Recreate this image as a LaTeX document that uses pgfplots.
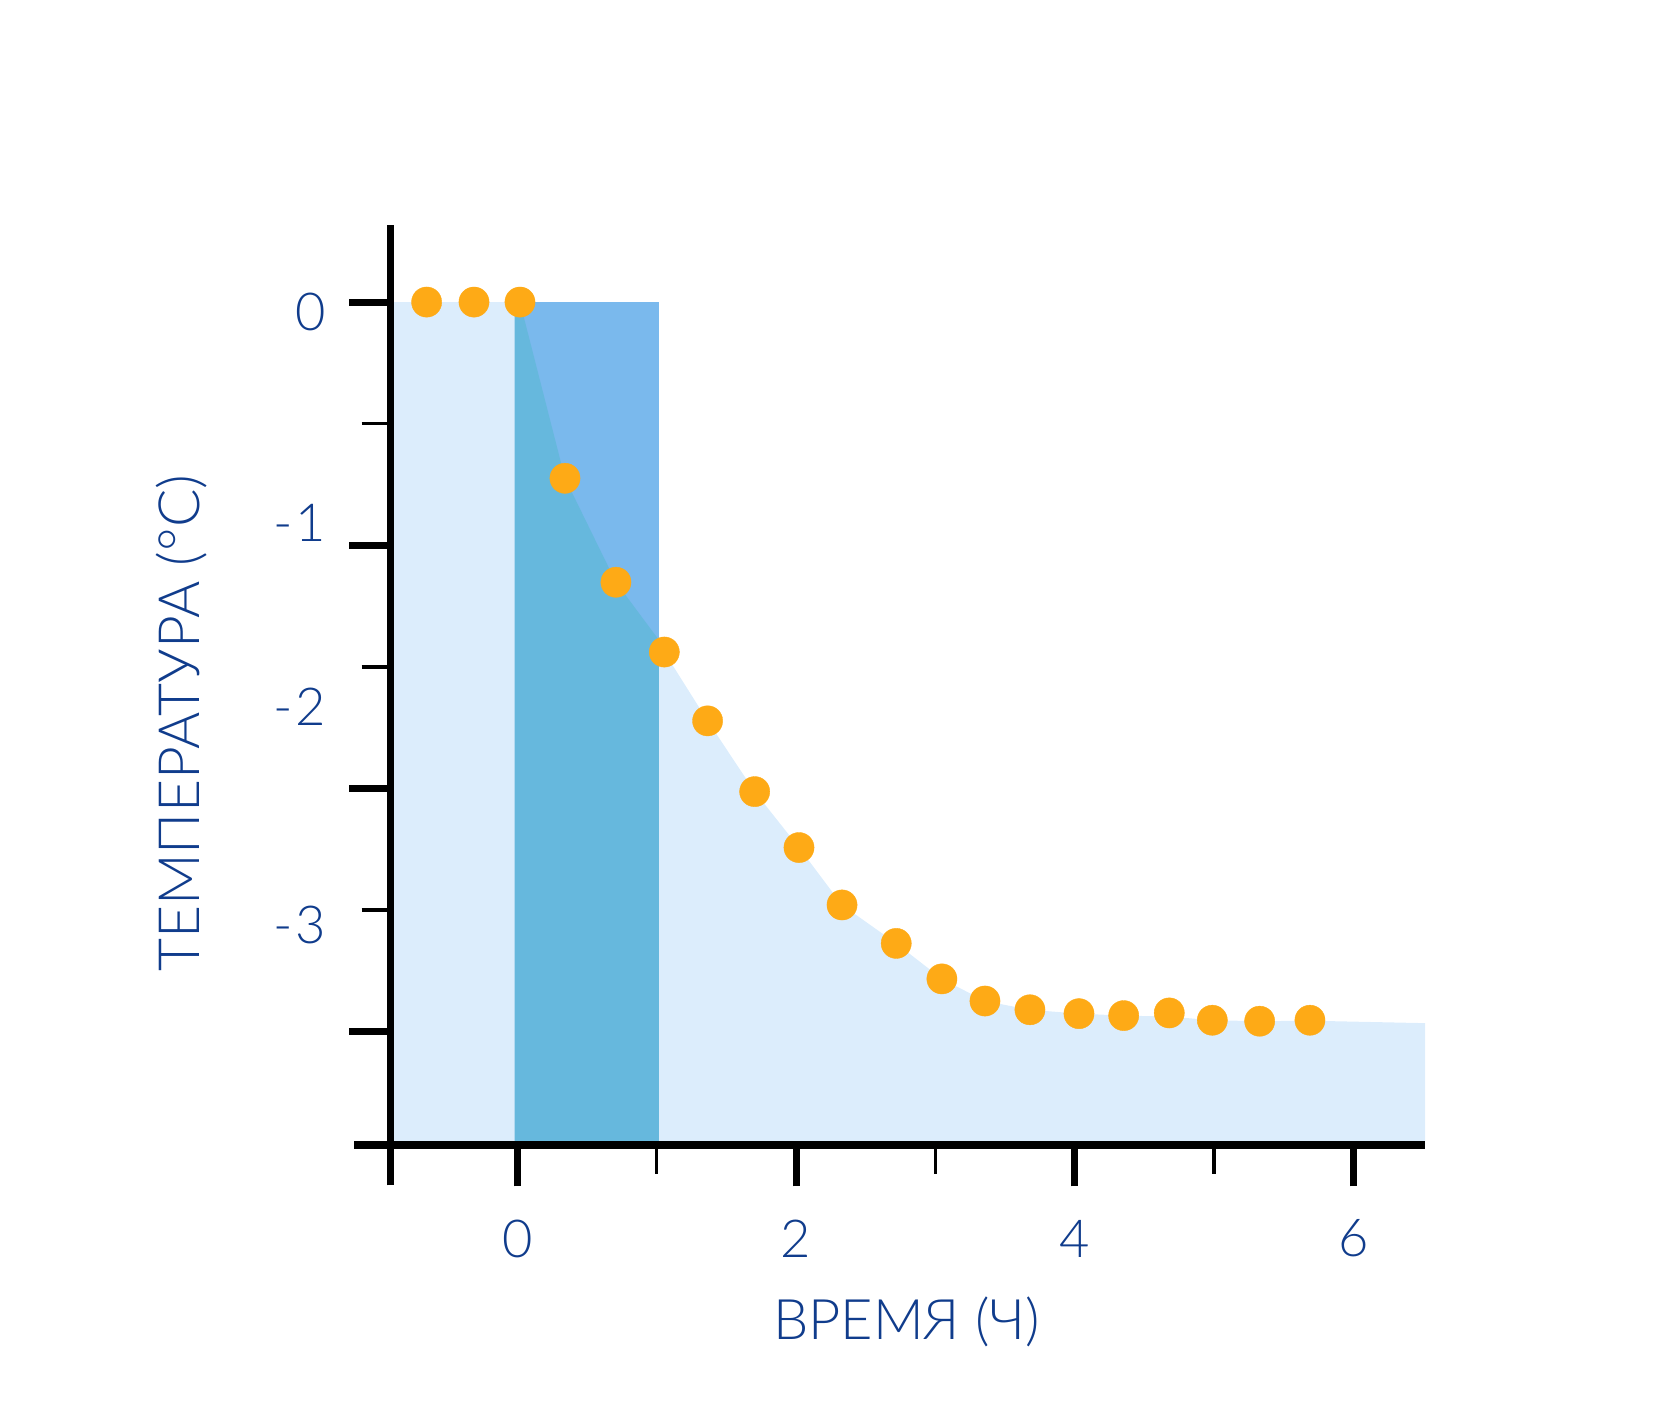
\documentclass[border=0pt]{standalone}
\usepackage{fontspec}
\IfFontExistsTF{Lato Light}{\setmainfont{Lato Light}}{\setmainfont{Lato}}
\usepackage{pgfplots}
\usepackage{pgfplotstable}
\pgfplotsset{compat=1.18}
\definecolor{navy}{RGB}{16,60,140}
\definecolor{lightarea}{RGB}{220,237,252}
\definecolor{rectblue}{RGB}{122,185,237}
\definecolor{overlap}{RGB}{102,184,221}
\definecolor{dotorange}{RGB}{254,170,22}

\pgfplotstableread{
x y
-0.652 0
-0.312 0
0.018 0
0.341 -0.7245
0.707 -1.152
1.054 -1.439
1.365 -1.722
1.703 -2.013
2.021 -2.243
2.330 -2.479
2.719 -2.637
3.047 -2.783
3.356 -2.874
3.679 -2.910
4.031 -2.926
4.352 -2.934
4.679 -2.923
4.988 -2.953
5.328 -2.957
5.689 -2.953
}\dots

\pgfplotstableread{
x y
-0.91 -3.466
-0.91 0
0.018 0
0.341 -0.7245
0.707 -1.152
1.054 -1.439
1.365 -1.722
1.703 -2.013
2.021 -2.243
2.330 -2.479
2.719 -2.637
3.047 -2.783
3.356 -2.874
3.679 -2.910
4.031 -2.926
4.352 -2.934
4.679 -2.938
4.988 -2.953
5.328 -2.957
5.689 -2.955
6.515 -2.965
6.515 -3.466
}\areacurve

\pgfplotstableread{
x y
-0.02 -3.466
-0.02 0
0.018 0
0.341 -0.7245
0.707 -1.152
1.016 -1.39
1.016 -3.466
}\overlapcurve

\begin{document}
\begin{tikzpicture}
\path[use as bounding box] (0,0) rectangle (16.8,14.06);
\begin{axis}[
  at={(3.907cm,2.61cm)}, anchor=south west,
  scale only axis, width=10.343cm, height=9.20cm,
  xmin=-0.91, xmax=6.515, ymin=-3.466, ymax=0.317,
  axis x line*=bottom, axis y line*=left,
  axis line style={-, line width=2pt, black},
  axis on top, clip=false,
  tick align=outside,
  /pgf/number format/assume math mode=true,
  xtick={0,2,4,6}, xticklabels={0,2,4,6},
  minor xtick={1,3,5},
  ytick={0,-1,-2,-3}, yticklabels={},
  minor ytick={-0.5,-1.5,-2.5},
  extra x ticks={-0.91}, extra x tick labels={},
  extra x tick style={major tick length=0.405cm},
  extra y ticks={-0.0395,-0.9095,-1.666,-2.5625},
  extra y tick labels={0,{-\kern1pt1},{-\kern1pt2},{-\kern1pt3}},
  extra y tick style={major tick length=0pt},
  major tick length=0.415cm, minor tick length=0.29cm,
  major tick style={line width=2pt, black},
  minor tick style={line width=0.95pt, black},
  tick label style={font=\fontsize{14.9}{18}\selectfont, text=navy},
  xticklabel style={yshift=-0.21cm},
  yticklabel style={xshift=-0.52cm},
  xlabel={ВРЕМЯ (Ч)}, ylabel={ТЕМПЕРАТУРА (°C)},
  x label style={font=\fontsize{15.9}{19}\selectfont, text=navy,
    at={([yshift=-1.95cm]axis description cs:0.4987,0)}, anchor=base},
  y label style={font=\fontsize{16.2}{19}\selectfont, text=navy,
    at={([xshift=-1.907cm]axis description cs:0,0.4584)}, anchor=base},
]
\addplot[fill=lightarea, draw=none] table[x=x,y=y] {\areacurve};
\addplot[fill=rectblue, draw=none] coordinates {(-0.02,0) (1.016,0) (1.016,-3.466) (-0.02,-3.466)};
\addplot[fill=overlap, draw=none] table[x=x,y=y] {\overlapcurve};
\draw[line width=2pt, black] (axis cs:-0.91,-3.466) -- ++(-0.367cm,0pt);
\addplot[only marks, mark=*, mark size=4.3pt, color=dotorange, mark options={draw=dotorange, fill=dotorange, line width=0.1pt}] table[x=x,y=y] {\dots};
\end{axis}
\end{tikzpicture}
\end{document}
